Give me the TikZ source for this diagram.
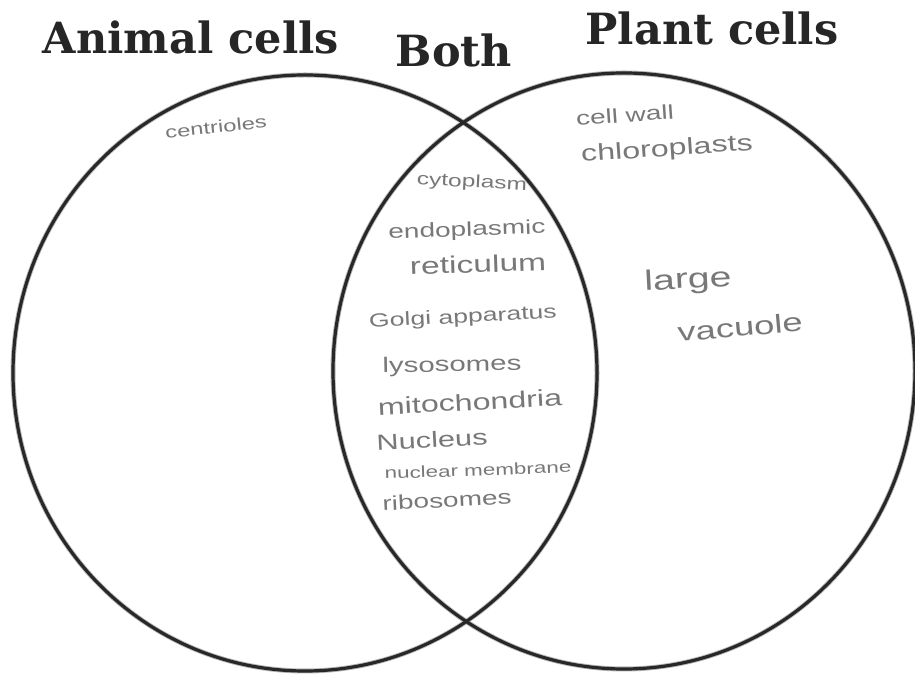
\documentclass[tikz,border=0pt]{standalone}
\usepackage{fontspec}
\usepackage{xcolor}
\usepackage{tikz}
\newfontfamily\titlefont{DejaVu Serif}
\newfontfamily\handfont[FakeStretch=1.4]{Liberation Sans}
\definecolor{rimcol}{RGB}{40,40,40}
\definecolor{inkcol}{RGB}{120,120,120}

\begin{document}
\begin{tikzpicture}[
  x=1pt, y=1pt,
  ttl/.style={anchor=base, inner sep=0pt, font=\titlefont\bfseries\fontsize{43}{50}\selectfont, text=black!85},
  hnd/.style={inner sep=0pt, font=\handfont\fontsize{#1}{#1}\selectfont, text=inkcol},
  rim/.style={draw=rimcol, line width=3.2pt},
  halo/.style={draw=gray!55, line width=5pt}
]
\useasboundingbox (0,0) rectangle (915,677);

\draw[halo] (305,304) ellipse [x radius=292, y radius=298];
\draw[halo] (624,306) ellipse [x radius=291, y radius=298];
\draw[rim] (305,304) ellipse [x radius=292, y radius=298];
\draw[rim] (624,306) ellipse [x radius=291, y radius=298];

\node[ttl] (animal) at (191,623) {Animal cells};
\node[ttl] (both) at (454,610) {Both};
\node[ttl] (plant) at (712,632) {Plant cells};

\node[hnd=17, rotate=6] (centr) at (216,550) {centrioles};

\node[hnd=20, rotate=4] (wall) at (625,562) {cell wall};
\node[hnd=23, rotate=4] (chloro) at (667,527) {chloroplasts};
\node[hnd=28, rotate=3] (large) at (688,396) {large};
\node[hnd=26, rotate=5] (vacu) at (740,350) {vacuole};

\node[hnd=17.5, rotate=-3] (cyto) at (472,494) {cytoplasm};
\node[hnd=20, rotate=2] (endo) at (467,446) {endoplasmic};
\node[hnd=24, rotate=2] (reti) at (478,413) {reticulum};
\node[hnd=19, rotate=3] (golgi) at (463,359) {Golgi apparatus};
\node[hnd=21, rotate=1] (lyso) at (452,311) {lysosomes};
\node[hnd=23, rotate=3] (mito) at (470,275) {mitochondria};
\node[hnd=22, rotate=3] (nucl) at (432,237) {Nucleus};
\node[hnd=16, rotate=2] (memb) at (478,207) {nuclear membrane};
\node[hnd=20, rotate=3] (ribo) at (447,177) {ribosomes};
\end{tikzpicture}
\end{document}
